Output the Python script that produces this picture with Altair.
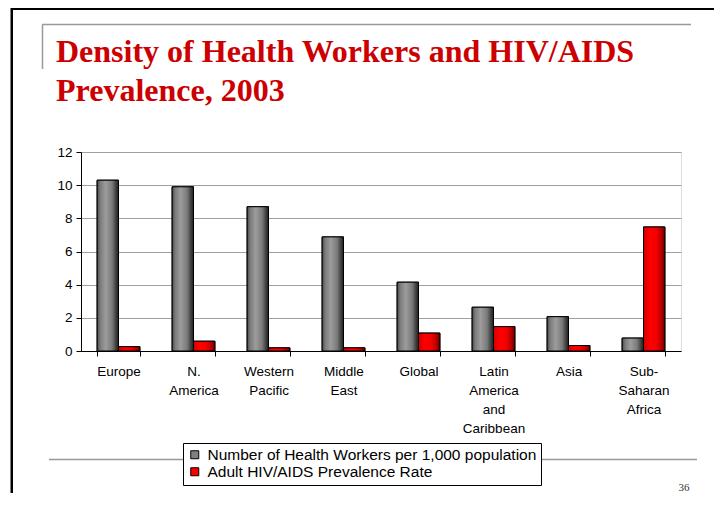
import altair as alt
import pandas as pd

regions = ["Europe", "N. America", "Western Pacific", "Middle East", "Global",
           "Latin America and Caribbean", "Asia", "Sub-Saharan Africa"]
series_names = ["Number of Health Workers per 1,000 population",
                "Adult HIV/AIDS Prevalence Rate"]
health_workers = [10.3, 9.9, 8.7, 6.88, 4.15, 2.64, 2.07, 0.78]
hiv_prevalence = [0.26, 0.59, 0.19, 0.19, 1.08, 1.47, 0.33, 7.48]
y_ticks = [0, 2, 4, 6, 8, 10, 12]
title_lines = ["Density of Health Workers and HIV/AIDS", "Prevalence, 2003"]
page_number = "36"

rows = []
for r, hw, hv in zip(regions, health_workers, hiv_prevalence):
    rows.append({"region": r, "series": series_names[0], "value": hw})
    rows.append({"region": r, "series": series_names[1], "value": hv})
df = pd.DataFrame(rows)

FONT = "Liberation Sans"

gray_grad = alt.Gradient(
    gradient="linear", x1=0, y1=0, x2=1, y2=0,
    stops=[alt.GradientStop(offset=0, color="#4a4a4a"),
           alt.GradientStop(offset=0.15, color="#7c7c7c"),
           alt.GradientStop(offset=0.4, color="#9c9c9c"),
           alt.GradientStop(offset=0.7, color="#7a7a7a"),
           alt.GradientStop(offset=0.9, color="#3a3a3a"),
           alt.GradientStop(offset=1, color="#1e1e1e")])
red_grad = alt.Gradient(
    gradient="linear", x1=0, y1=0, x2=1, y2=0,
    stops=[alt.GradientStop(offset=0, color="#d00000"),
           alt.GradientStop(offset=0.3, color="#ff0000"),
           alt.GradientStop(offset=0.6, color="#f40000"),
           alt.GradientStop(offset=0.85, color="#b00000"),
           alt.GradientStop(offset=1, color="#600000")])

x_enc = alt.X("region:N", sort=regions, title=None,
              scale=alt.Scale(paddingInner=0.43, paddingOuter=0.215),
              axis=alt.Axis(labelAngle=0, domainColor="black", tickColor="black",
                            tickSize=5, tickBand="extent", labelPadding=8,
                            labelFont=FONT, labelFontSize=13.5, labelColor="black",
                            labelLineHeight=19, labelLimit=200,
                            labelExpr="split(replace(datum.label, '-', '- '), ' ')"))
xo_enc = alt.XOffset("series:N", sort=series_names,
                     scale=alt.Scale(paddingInner=0, paddingOuter=0))
y_enc = alt.Y("value:Q", title=None,
              scale=alt.Scale(domain=[0, 12], nice=False),
              axis=alt.Axis(values=y_ticks, domainColor="black", tickColor="black",
                            tickSize=5, labelPadding=4, labelFont=FONT,
                            labelFontSize=13.5, labelColor="black",
                            gridColor="#a0a0a0", gridWidth=1))

base = alt.Chart(df).encode(x=x_enc, xOffset=xo_enc, y=y_enc)

legend_layer = base.mark_bar(stroke="black", strokeWidth=1).encode(
    color=alt.Color("series:N", sort=series_names,
                    scale=alt.Scale(domain=series_names, range=["#808080", "#ff0000"]),
                    legend=alt.Legend(title=None, orient="none", legendX=102, legendY=291,
                                      direction="vertical", symbolType="square",
                                      symbolSize=64, symbolStrokeColor="black",
                                      symbolStrokeWidth=1, labelFont=FONT,
                                      labelFontSize=15.5, labelColor="black",
                                      labelLimit=500, labelOffset=5, rowPadding=0,
                                      padding=4, strokeColor="black", fillColor="white",
                                      cornerRadius=0,
                                      labelExpr="datum.index == 0 ? '\u00a0' + datum.label : datum.label")))
gray_layer = base.transform_filter(
    alt.datum.series == series_names[0]).mark_bar(color=gray_grad, stroke="black", strokeWidth=1)
red_layer = base.transform_filter(
    alt.datum.series == series_names[1]).mark_bar(color=red_grad, stroke="black", strokeWidth=1)

one = alt.Data(values=[{}])
def hline(x1, x2, y, color, w):
    return alt.Chart(one).mark_rule(color=color, strokeWidth=w).encode(
        x=alt.value(x1), x2=alt.value(x2), y=alt.value(y))
def vline(x, y1, y2, color, w):
    return alt.Chart(one).mark_rule(color=color, strokeWidth=w).encode(
        x=alt.value(x), y=alt.value(y1), y2=alt.value(y2))
def box(x1, x2, y1, y2, color):
    return alt.Chart(one).mark_rect(color=color, strokeWidth=0).encode(
        x=alt.value(x1), x2=alt.value(x2), y=alt.value(y1), y2=alt.value(y2))

decor = [
    box(-70, 633, -145, -142, "black"),
    box(-70.5, -68, -145, 341, "black"),
    hline(-39, 610, -127.5, "#999999", 1.5),
    vline(-38.5, -127.5, -83, "#999999", 1.5),
    hline(-32, 616, 307.5, "#999999", 1.5),
]
title_marks = [
    alt.Chart(one).mark_text(font="Liberation Serif", fontSize=32, fontWeight="bold",
                             color="#cc0000", align="left", baseline="alphabetic").encode(
        x=alt.value(-25), y=alt.value(yy), text=alt.value(t))
    for t, yy in zip(title_lines, [-90, -51])
]
page_text = alt.Chart(one).mark_text(font="Liberation Serif", fontSize=11, color="#333333").encode(
    x=alt.value(603), y=alt.value(336), text=alt.value(page_number))

chart = alt.layer(*decor, *title_marks, legend_layer, gray_layer, red_layer, page_text).properties(
    width=600, height=199,
    padding={"left": 73, "top": 144, "right": 33, "bottom": 142},
    autosize=alt.AutoSizeParams(type="none"),
).configure_view(stroke="#a0a0a0", strokeWidth=1).configure(background="white")

chart.save("out.html", embed_options={"renderer": "svg", "actions": False})
